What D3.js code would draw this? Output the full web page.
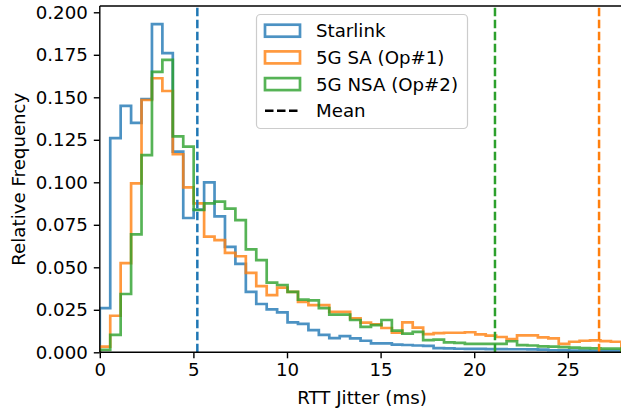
<!DOCTYPE html>
<html><head><meta charset="utf-8">
<script src="https://cdn.jsdelivr.net/npm/d3@7"></script>
<style>
html,body{margin:0;padding:0;background:#fff;overflow:hidden}
svg{display:block;font-family:"DejaVu Sans",sans-serif}
</style></head>
<body><svg id="c" width="621" height="412"></svg>
<script>
// ---- data ----
const binWidth = 0.5572;   // ms
const starlink = [0.026,0.126,0.145,0.135,0.149,0.193,0.176,0.118,0.079,0.084,0.100,0.080,0.062,0.052,0.0356,0.0284,0.0252,0.0235,0.0176,0.0167,0.0131,0.0102,0.0083,0.0095,0.0082,0.0068,0.0052,0.0052,0.0045,0.0043,0.0040,0.0038,0.0024,0.0023,0.0021,0.0020,0.0020,0.0019,0.0019,0.0018,0.0018,0.0017,0.0016,0.0012,0.0011,0.0010,0.0010,0.0009,0.0009,0.0008];
const sa5g = [0.0033,0.0215,0.0524,0.0994,0.1484,0.1612,0.1537,0.1165,0.097,0.0876,0.068,0.066,0.0585,0.0565,0.0467,0.0389,0.0336,0.038,0.0356,0.0297,0.0278,0.0278,0.0238,0.0238,0.020,0.0174,0.0165,0.0143,0.0115,0.0176,0.0145,0.0107,0.0113,0.0115,0.0115,0.0118,0.0105,0.0098,0.0090,0.0078,0.0100,0.0100,0.0088,0.0082,0.0050,0.0062,0.0068,0.0070,0.0066,0.0062];
const nsa5g = [0.0014,0.0102,0.0343,0.0694,0.116,0.165,0.172,0.127,0.121,0.0837,0.0876,0.0886,0.0845,0.0777,0.0605,0.0542,0.041,0.0396,0.0355,0.031,0.0305,0.026,0.0222,0.0222,0.019,0.015,0.016,0.019,0.0127,0.0110,0.0120,0.0072,0.0074,0.0058,0.0055,0.0050,0.0049,0.0049,0.0050,0.0065,0.0042,0.0040,0.0035,0.0033,0.0030,0.0027,0.0025,0.0023,0.0022,0.0022];
const seriesNames = ["Starlink","5G SA (Op#1)","5G NSA (Op#2)"];
const seriesColors = ["#1f77b4","#ff7f0e","#2ca02c"];
const means = [5.21, 26.67, 21.11];
const xTicks = [0,5,10,15,20,25];
const yTicks = [0,0.025,0.05,0.075,0.1,0.125,0.15,0.175,0.2];

// ---- layout ----
const svg = d3.select("#c");
const L = 99.8, B = 352.3, T = 6;
const x = d3.scaleLinear().domain([0,28]).range([L, L + 28*18.72]);
const y = d3.scaleLinear().domain([0,0.2037]).range([B, T]);
const fs = 18.2;

svg.append("defs").append("clipPath").attr("id","clip")
  .append("rect").attr("x",L).attr("y",T).attr("width",621-L).attr("height",B-T);

const plot = svg.append("g").attr("clip-path","url(#clip)");

function stepPath(vals){
  const pts = [[x(0), y(0)]];
  vals.forEach((v,i)=>{
    pts.push([x(i*binWidth), y(v)]);
    pts.push([x((i+1)*binWidth), y(v)]);
  });
  pts.push([x(vals.length*binWidth), y(0)]);
  return d3.line()(pts);
}
[starlink, sa5g, nsa5g].forEach((vals,i)=>{
  plot.append("path").attr("d", stepPath(vals))
    .attr("fill","none").attr("stroke", seriesColors[i])
    .attr("stroke-opacity",0.8).attr("stroke-width",2.7)
    .attr("stroke-linejoin","miter");
});
means.forEach((m,i)=>{
  plot.append("line").attr("x1",x(m)).attr("x2",x(m)).attr("y1",B).attr("y2",T)
    .attr("stroke",seriesColors[i]).attr("stroke-width",2.5)
    .attr("stroke-dasharray","8.5,3.5");
});

// ---- axes ----
const xAxis = d3.axisBottom(x).tickValues(xTicks).tickSize(6).tickPadding(5).tickFormat(d3.format("d"));
const gx = svg.append("g").attr("transform",`translate(0,${B})`).call(xAxis);
const yAxis = d3.axisLeft(y).tickValues(yTicks).tickSize(6).tickPadding(6).tickFormat(d3.format(".3f"));
const gy = svg.append("g").attr("transform",`translate(${L},0)`).call(yAxis);
[gx,gy].forEach(g=>{
  g.select(".domain").remove();
  g.selectAll(".tick line").attr("stroke","#000").attr("stroke-width",1.4);
  g.selectAll(".tick text").attr("font-size",fs).attr("fill","#000").attr("font-family","DejaVu Sans");
});
gx.selectAll(".tick text").attr("dy","0.72em");
// spines
svg.append("line").attr("x1",L).attr("x2",621).attr("y1",B).attr("y2",B).attr("stroke","#000").attr("stroke-width",1.4);
svg.append("line").attr("x1",L).attr("x2",621).attr("y1",T).attr("y2",T).attr("stroke","#000").attr("stroke-width",1.4);
svg.append("line").attr("x1",L).attr("x2",L).attr("y1",T).attr("y2",B).attr("stroke","#000").attr("stroke-width",1.4);

svg.append("text").attr("x",362).attr("y",404).attr("text-anchor","middle")
  .attr("font-size",fs).text("RTT Jitter (ms)");
svg.append("text").attr("transform",`translate(25,${(T+B)/2}) rotate(-90)`)
  .attr("text-anchor","middle").attr("font-size",fs).text("Relative Frequency");

// ---- legend ----
const lg = svg.append("g");
lg.append("rect").attr("x",256.5).attr("y",14.5).attr("width",211).attr("height",114)
  .attr("rx",4).attr("fill","#fff").attr("fill-opacity",0.8)
  .attr("stroke","#cccccc").attr("stroke-width",1.2);
const rowY = [30.7, 57.4, 84.1, 110.8];
seriesNames.forEach((n,i)=>{
  lg.append("rect").attr("x",265).attr("y",rowY[i]-6).attr("width",35).attr("height",12)
    .attr("fill","none").attr("stroke",seriesColors[i]).attr("stroke-opacity",0.8).attr("stroke-width",2.7);
  lg.append("text").attr("x",316).attr("y",rowY[i]).attr("dy","0.36em").attr("font-size",fs).text(n);
});
lg.append("line").attr("x1",265).attr("x2",300).attr("y1",rowY[3]).attr("y2",rowY[3])
  .attr("stroke","#000").attr("stroke-width",2.5).attr("stroke-dasharray","8.5,3.5");
lg.append("text").attr("x",316).attr("y",rowY[3]).attr("dy","0.36em").attr("font-size",fs).text("Mean");
</script></body></html>
